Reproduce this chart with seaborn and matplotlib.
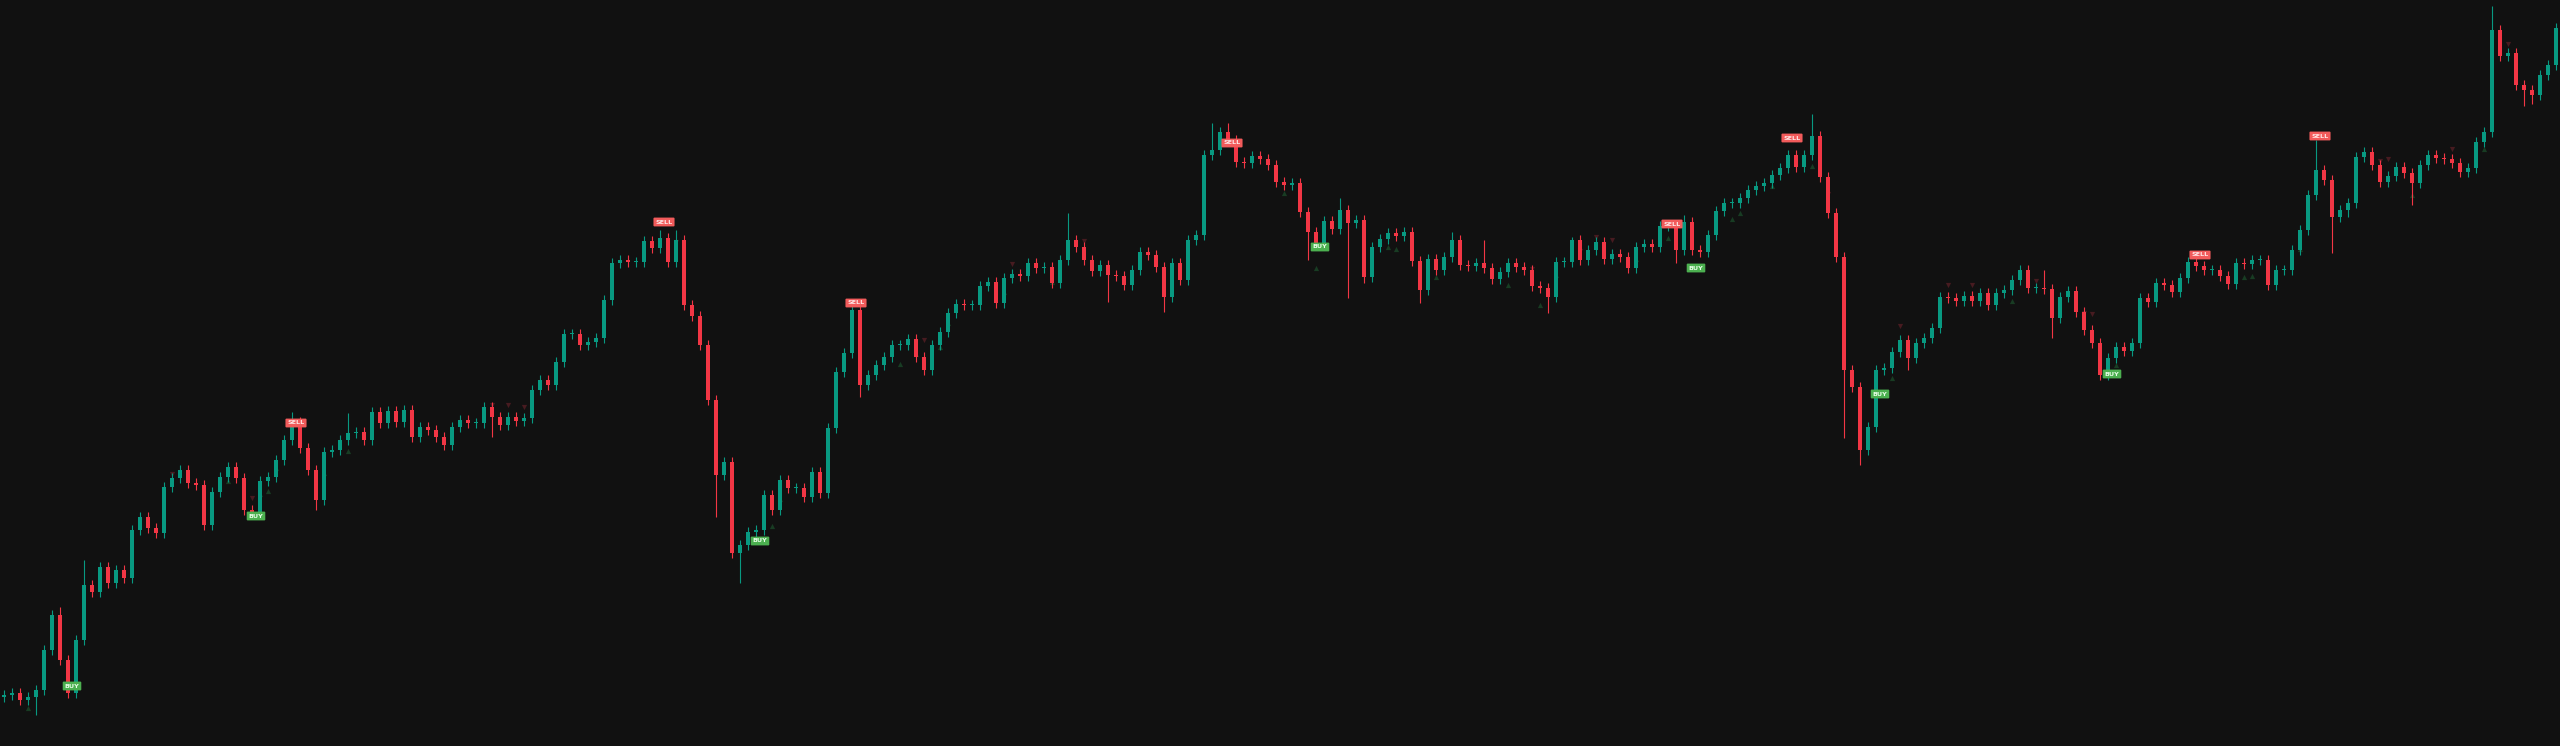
import matplotlib
matplotlib.use("Agg")
import matplotlib.pyplot as plt
import numpy as np
import pandas as pd
import seaborn as sns

# closing prices, one per bar (opens = previous close)
closes = [
    51, 53, 46, 49, 56, 96, 131, 86, 53, 106,
    161, 154, 179, 163, 176, 168, 216, 229, 218, 213,
    259, 268, 276, 263, 261, 221, 254, 269, 279, 268,
    236, 232, 265, 269, 286, 306, 324, 298, 276, 246,
    294, 296, 306, 313, 314, 306, 334, 323, 335, 324,
    336, 309, 319, 316, 309, 301, 319, 326, 323, 323,
    339, 329, 321, 329, 325, 328, 356, 366, 361, 384,
    412, 412, 401, 404, 408, 446, 483, 486, 484, 484,
    505, 498, 508, 484, 506, 441, 430, 401, 346, 271,
    284, 193, 201, 214, 216, 251, 236, 266, 258, 258,
    249, 274, 253, 318, 374, 393, 436, 361, 371, 381,
    389, 401, 401, 407, 389, 376, 401, 414, 433, 442,
    441, 441, 460, 464, 443, 468, 472, 470, 483, 478,
    479, 463, 486, 506, 499, 486, 475, 481, 471, 470,
    461, 476, 494, 491, 479, 449, 483, 466, 506, 511,
    591, 596, 614, 606, 584, 583, 590, 587, 581, 564,
    561, 563, 534, 514, 503, 525, 517, 536, 523, 526,
    469, 499, 507, 513, 510, 514, 485, 456, 487, 476,
    489, 506, 481, 480, 483, 478, 467, 474, 483, 479,
    476, 460, 458, 449, 484, 484, 506, 486, 496, 504,
    487, 492, 489, 478, 499, 502, 499, 520, 521, 496,
    524, 496, 494, 511, 535, 543, 543, 548, 556, 560,
    563, 571, 578, 591, 579, 591, 610, 569, 533, 489,
    376, 359, 296, 319, 376, 378, 394, 406, 388, 403,
    408, 418, 449, 448, 445, 450, 445, 453, 441, 453,
    456, 466, 476, 458, 458, 457, 428, 449, 455, 434,
    416, 403, 371, 388, 399, 395, 403, 448, 444, 463,
    461, 454, 468, 484, 480, 476, 476, 470, 462, 483,
    482, 486, 486, 461, 476, 476, 496, 516, 551, 576,
    566, 529, 536, 543, 589, 594, 581, 564, 570, 579,
    573, 563, 581, 591, 588, 587, 583, 574, 578, 604,
    614, 716, 690, 693, 661, 656, 651, 671, 681, 718,
]
first_open = 49

# long wicks (bar index -> price)
long_highs = {7: 139, 10: 186, 36: 334, 43: 333, 82: 516, 84: 516, 106: 447,
              133: 533, 151: 623, 153: 623, 167: 548, 181: 514, 185: 506,
              196: 509, 210: 531, 226: 632, 255: 476, 289: 606, 311: 740}
long_lows = {4: 31, 39: 236, 61: 309, 89: 229, 92: 163, 107: 349, 138: 444,
             145: 434, 163: 486, 168: 448, 170: 463, 177: 443, 193: 433,
             209: 483, 230: 308, 232: 281, 238: 376, 256: 408, 291: 493,
             293: 529, 301: 541, 315: 640, 316: 642}

# signal labels
buy_bars = [8, 31, 94, 164, 211, 234, 263]
buy_prices = [60, 230, 205, 499, 478, 352, 372]
sell_bars = [36, 82, 106, 153, 208, 223, 274, 289]
sell_prices = [323, 524, 443, 603, 522, 608, 491, 610]

# faint triangle markers
up_tri_bars = [3, 28, 32, 33, 34, 40, 43, 96, 97, 112, 114, 117, 118, 125, 131,
               160, 164, 173, 174, 179, 188, 192, 194, 204, 208, 216, 217, 221,
               226, 236, 251, 264, 280, 281, 287, 301, 310]
up_tri_prices = [44, 271, 258, 261, 284, 279, 301, 226, 253, 388, 398, 405, 429,
                 460, 470, 559, 484, 505, 503, 475, 467, 447, 477, 493, 514, 533,
                 539, 566, 586, 374, 451, 387, 475, 476, 503, 557, 603]
dn_tri_bars = [21, 31, 61, 63, 65, 84, 115, 126, 135, 191, 197, 199, 201, 228,
               237, 243, 246, 254, 260, 261, 297, 298, 306, 313]
dn_tri_prices = [266, 242, 335, 335, 333, 498, 400, 476, 499, 471, 489, 503, 500,
                 546, 414, 455, 455, 459, 427, 426, 579, 581, 591, 696]

bg = "#111111"
up_col = "#089981"
dn_col = "#f23645"
wick_pad = 5

df = pd.DataFrame({"close": closes})
df["bar"] = np.arange(len(df))
df["open"] = df["close"].shift(1).fillna(first_open)
df["high"] = df[["open", "close"]].max(axis=1) + wick_pad
df["low"] = df[["open", "close"]].min(axis=1) - wick_pad
for k, v in long_highs.items():
    df.loc[k, "high"] = v
for k, v in long_lows.items():
    df.loc[k, "low"] = v
df["up"] = df["close"] >= df["open"]
df["color"] = np.where(df["up"], up_col, dn_col)

sns.set_theme(style="dark", rc={"axes.facecolor": bg, "figure.facecolor": bg})
plt.rcParams["font.family"] = ["DejaVu Sans"]

fig = plt.figure(figsize=(25.6, 7.46), dpi=100)
ax = fig.add_axes([0, 0, 1, 1])
ax.set_facecolor(bg)

tri_up = pd.DataFrame({"bar": up_tri_bars, "price": np.array(up_tri_prices) - 6})
tri_dn = pd.DataFrame({"bar": dn_tri_bars, "price": np.array(dn_tri_prices) + 6})
sns.scatterplot(data=tri_up, x="bar", y="price", marker="^", s=14,
                color="#183c23", linewidth=0, ax=ax, legend=False, zorder=1)
sns.scatterplot(data=tri_dn, x="bar", y="price", marker="v", s=14,
                color="#471b20", linewidth=0, ax=ax, legend=False, zorder=1)

ax.vlines(df["bar"], df["low"], df["high"], colors=df["color"], linewidth=0.8,
          zorder=2)
body = np.maximum((df["close"] - df["open"]).abs(), 1.2)
ax.bar(df["bar"], body, bottom=df[["open", "close"]].min(axis=1),
       width=0.5, color=df["color"], linewidth=0, zorder=3)

for b, p in zip(sell_bars, sell_prices):
    ax.text(b + 0.5, p, "SELL", fontsize=4.6, fontweight="bold", color="#ffe8e8",
            ha="center", va="center", zorder=5,
            bbox=dict(boxstyle="round,pad=0.3,rounding_size=0.15", fc="#f25b5b", ec="none"))
for b, p in zip(buy_bars, buy_prices):
    ax.text(b + 0.5, p, "BUY", fontsize=4.6, fontweight="bold", color="#e8ffe8",
            ha="center", va="center", zorder=5,
            bbox=dict(boxstyle="round,pad=0.3,rounding_size=0.15", fc="#4cb050", ec="none"))

ax.set_xlim(-0.5, len(df) - 0.5)
ax.set_ylim(0, 746)
ax.set_axis_off()

fig.savefig("out.png", dpi=100, facecolor=bg)
